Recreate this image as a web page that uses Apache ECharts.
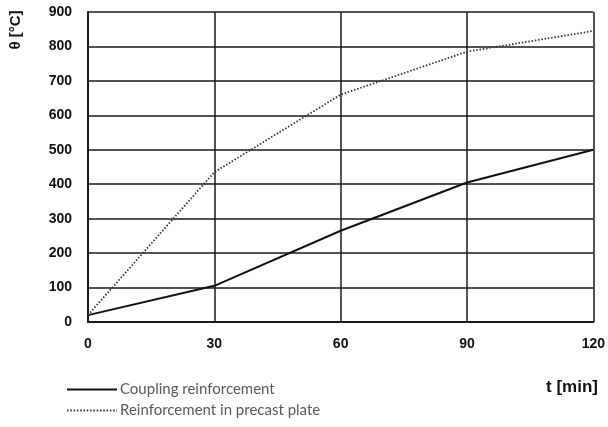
<!DOCTYPE html>
<html>
<head>
<meta charset="utf-8">
<script src="https://cdn.jsdelivr.net/npm/echarts@6/dist/echarts.min.js"></script>
<style>
  html, body { margin: 0; padding: 0; background: #fff; }
  #chart { width: 608px; height: 427px; }
</style>
</head>
<body>
<div id="chart"></div>
<script>
// Time in minutes and steel temperatures in °C
const timeMin = [0, 30, 60, 90, 120];
const couplingTemp = [20, 105, 265, 405, 500];
const precastTemp = [20, 435, 660, 785, 845];
const seriesNames = ['Coupling reinforcement', 'Reinforcement in precast plate'];
const xTitle = 't [min]';
const yTitle = 'θ [°C]';

const pairs = (xs, ys) => xs.map((x, i) => [x, ys[i]]);

const chart = echarts.init(document.getElementById('chart'));
const axisFont = { fontFamily: 'Liberation Sans', fontWeight: 'bold', fontSize: 14, color: '#111' };

chart.setOption({
  animation: false,
  backgroundColor: '#fff',
  grid: { left: 88, right: 12, top: 12, bottom: 105, containLabel: false },
  xAxis: {
    type: 'value', min: 0, max: 120, interval: 30,
    axisLine: { show: true, lineStyle: { color: '#1a1a1a', width: 2 } },
    axisTick: { show: false },
    splitLine: { show: true, lineStyle: { color: '#1a1a1a', width: 1.5 } },
    axisLabel: Object.assign({ margin: 15 }, axisFont)
  },
  yAxis: {
    type: 'value', min: 0, max: 900, interval: 100,
    axisLine: { show: true, lineStyle: { color: '#1a1a1a', width: 2 } },
    axisTick: { show: false },
    splitLine: { show: true, lineStyle: { color: '#1a1a1a', width: 1.5 } },
    axisLabel: Object.assign({ margin: 16 }, axisFont)
  },
  legend: {
    orient: 'vertical', left: 61, top: 377, itemGap: 6,
    itemWidth: 50, itemHeight: 12,
    itemStyle: { opacity: 0 },
    textStyle: { fontFamily: 'Lato', fontSize: 15, color: '#595959', padding: [0, 0, 0, -2] },
    data: seriesNames
  },
  graphic: [
    {
      type: 'text', left: 546, top: 379,
      style: { text: xTitle, font: 'bold 17px "Liberation Sans"', fill: '#111' }
    },
    {
      type: 'text', x: 16, y: 30, rotation: Math.PI / 2,
      style: { text: yTitle, font: 'bold 15px "Liberation Sans"', fill: '#111', align: 'center', verticalAlign: 'middle' }
    }
  ],
  series: [
    {
      name: seriesNames[0], type: 'line', symbol: 'none',
      data: pairs(timeMin, couplingTemp),
      lineStyle: { color: '#111', width: 2 },
      itemStyle: { color: '#111' }
    },
    {
      name: seriesNames[1], type: 'line', symbol: 'none',
      data: pairs(timeMin, precastTemp),
      lineStyle: { color: '#333', width: 1.8, type: [1.5, 1.8] },
      itemStyle: { color: '#333' }
    }
  ]
});
</script>
</body>
</html>
